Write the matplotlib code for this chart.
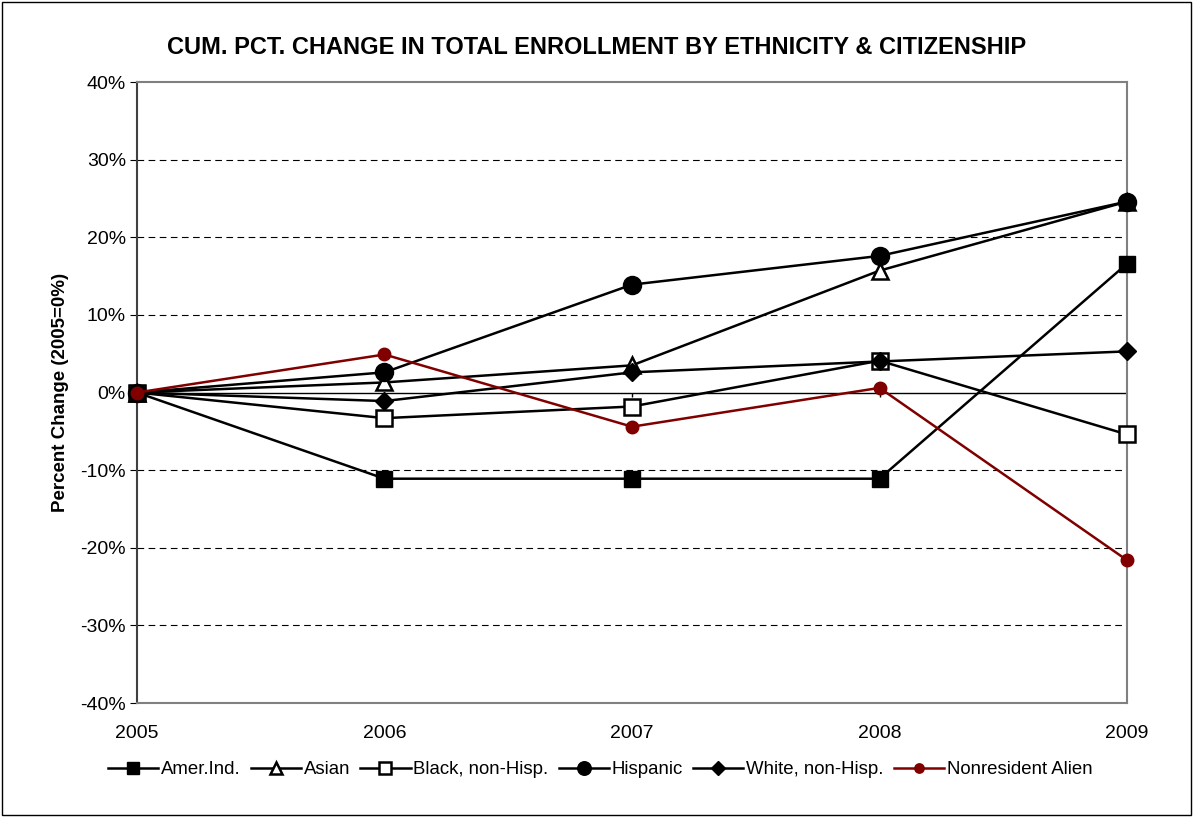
import matplotlib
matplotlib.use("Agg")
import matplotlib.pyplot as plt
from matplotlib.patches import Rectangle
from matplotlib.ticker import FuncFormatter

plt.rcParams['font.family'] = ['Liberation Sans', 'DejaVu Sans']

years = [2005, 2006, 2007, 2008, 2009]

# cumulative percent change, 2005 = 0
amer_ind = [0.0, -11.1, -11.1, -11.1, 16.6]
asian = [0.0, 1.3, 3.5, 15.7, 24.6]
black = [0.0, -3.3, -1.8, 4.1, -5.4]
hispanic = [0.0, 2.6, 13.9, 17.6, 24.6]
white = [0.0, -1.1, 2.6, 4.0, 5.3]
nonres = [0.0, 4.9, -4.4, 0.6, -21.6]

fig = plt.figure(figsize=(11.93, 8.17), dpi=100)
ax = fig.add_axes([0.1148, 0.1395, 0.8299, 0.7601])

# figure border
fig.patches.append(Rectangle((0.002, 0.002), 0.996, 0.996, transform=fig.transFigure,
                             fill=False, edgecolor='black', linewidth=1.0))

# gridlines
for v in range(-30, 40, 10):
    if v != 0:
        ax.axhline(v, color='black', linestyle=(0, (6, 4)), linewidth=0.8, zorder=1)
ax.axhline(0, color='black', linewidth=1.0, zorder=1)
ax.vlines(years[1:], -0.6, 0, color='black', linewidth=1.0, zorder=1)

series = [
    ('Amer.Ind.', amer_ind, dict(marker='s', ms=12, mfc='black', mec='black', color='black')),
    ('Asian', asian, dict(marker='^', ms=11, mfc='white', mec='black', mew=1.8, color='black')),
    ('Black, non-Hisp.', black, dict(marker='s', ms=12, mfc='white', mec='black', mew=1.8, color='black')),
    ('Hispanic', hispanic, dict(marker='o', ms=13, mfc='black', mec='black', color='black')),
    ('White, non-Hisp.', white, dict(marker='D', ms=9, mfc='black', mec='black', color='black')),
    ('Nonresident Alien', nonres, dict(marker='o', ms=9, mfc='#800000', mec='#800000', color='#800000')),
]
for name, vals, style in series:
    ax.plot(years, vals, label=name, linewidth=1.8, zorder=3, clip_on=False, **style)

ax.set_xlim(2005, 2009)
ax.set_ylim(-40, 40)
ax.set_xticks(years)
ax.set_yticks(range(-40, 41, 10))
ax.yaxis.set_major_formatter(FuncFormatter(lambda v, p: f'{v:.0f}%'))
ax.tick_params(axis='both', labelsize=14, color='black', length=5, direction='out')
ax.tick_params(axis='x', length=0, pad=16)
ax.tick_params(axis='y', pad=3)

for side in ['top', 'right', 'bottom']:
    ax.spines[side].set_color('#808080')
    ax.spines[side].set_linewidth(1.5)
ax.spines['left'].set_color('#404040')
ax.spines['left'].set_linewidth(1.5)

ax.set_ylabel('Percent Change (2005=0%)', fontsize=13.5, fontweight='bold', labelpad=8)
fig.suptitle('CUM. PCT. CHANGE IN TOTAL ENROLLMENT BY ETHNICITY & CITIZENSHIP',
             fontsize=17, fontweight='bold', y=0.956)

leg = fig.legend(loc='center', bbox_to_anchor=(0.503, 0.058), ncol=6, frameon=False,
                 fontsize=13.4, handlelength=2.7, handletextpad=0.15, columnspacing=0.55,
                 markerscale=0.75)

fig.savefig('out.png', dpi=100)
